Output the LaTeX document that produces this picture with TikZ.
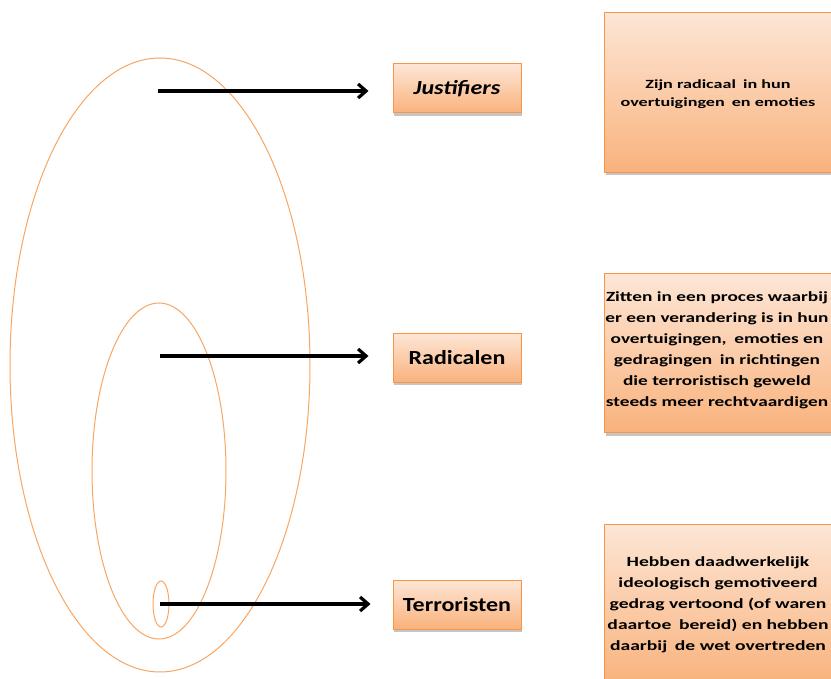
\documentclass[tikz,border=0pt]{standalone}
\usepackage{fontspec}
\usepackage{graphicx}
\setmainfont{Carlito}
\usetikzlibrary{arrows.meta,shadows}
\definecolor{orborder}{HTML}{F79646}
\definecolor{ortop}{HTML}{FDE6D6}
\definecolor{orbot}{HTML}{F9B27C}
\newcommand{\wide}[1]{\scalebox{1.2}[1]{#1}}
\newcommand{\widelines}[2]{\scalebox{#1}[1]{\begin{tabular}{@{}c@{}}#2\end{tabular}}}
\tikzset{
  ring/.style={draw=orborder!85, line width=1pt},
  lbl/.style={draw=orborder, line width=1pt, top color=ortop, bottom color=orbot, minimum width=128pt, minimum height=49pt, font=\bfseries\fontsize{20}{24}\selectfont, drop shadow={opacity=0.45, shadow xshift=1pt, shadow yshift=-3pt}},
  desc/.style={draw=orborder, line width=1pt, top color=ortop, bottom color=orbot, anchor=north west, drop shadow={opacity=0.45, shadow xshift=1pt, shadow yshift=-3pt}},
  dtext/.style={align=center, font=\bfseries\fontsize{14}{21}\selectfont, inner sep=0pt},
  arr/.style={-{Straight Barb[length=8pt,width=14pt]}, line width=3.2pt, black}
}
\begin{document}
\begin{tikzpicture}[x=1pt,y=-1pt]
\useasboundingbox (0,0) rectangle (831,679);
\clip (0,0) rectangle (831,679);
\fill[white] (0,0) rectangle (831,679);
% ellipses
\draw[ring] (160,365) ellipse [x radius=150, y radius=307];
\draw[ring] (159,471) ellipse [x radius=67, y radius=168];
\draw[ring] (161,604) ellipse [x radius=8, y radius=23];
% label boxes
\node[lbl] (just) at (457,88.5) {\wide{\itshape Justifiers}};
\node[lbl] (rad) at (457,358) {\wide{Radicalen}};
\node[lbl] (terr) at (457,604.5) {\wide{Terroristen}};
% description boxes
\node[desc, minimum width=240pt, minimum height=160pt] (d1) at (604,12) {};
\node[desc, minimum width=240pt, minimum height=159pt] (d2) at (604,273) {};
\node[desc, minimum width=240pt, minimum height=160pt] (d3) at (604,524) {};
\node[dtext, font=\bfseries\fontsize{12.5}{18}\selectfont] (t1) at (718,94) {\widelines{1.45}{Zijn radicaal\, in hun\\overtuigingen\, en emoties}};
\node[dtext] (t2) at (717,350) {\widelines{1.38}{Zitten in een proces waarbij\\er een verandering is in hun\\overtuigingen,\, emoties en\\gedragingen\, in richtingen\\die terroristisch geweld\\steeds meer rechtvaardigen}};
\node[dtext] (t3) at (718,604) {\widelines{1.4}{Hebben daadwerkelijk\\ideologisch gemotiveerd\\gedrag vertoond (of waren\\daartoe\, bereid) en hebben\\daarbij\, de wet overtreden}};
% arrows
\coordinate (s1) at (158,91);
\coordinate (s2) at (160,356);
\coordinate (s3) at (160,604);
\draw[arr] (s1) -- ([xshift=-24pt]just.west |- s1);
\draw[arr] (s2) -- ([xshift=-24pt]rad.west |- s2);
\draw[arr] (s3) -- ([xshift=-22pt]terr.west |- s3);
\end{tikzpicture}
\end{document}
